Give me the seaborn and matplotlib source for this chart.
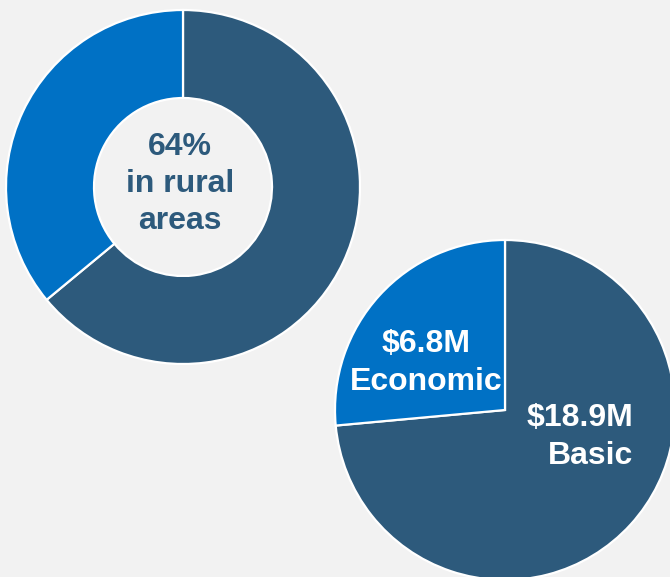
import seaborn as sns
import matplotlib.pyplot as plt

# donut: share of people in rural areas
rural_labels = ['Rural', 'Other']
rural_share = [64, 36]

# pie: funding split, $M
fund_labels = ['Basic', 'Economic']
fund_values = [18.9, 6.8]

dark = '#2d5a7c'
blue = '#0071c5'
bg = '#f2f2f2'

sns.set_theme(style='white')
plt.rcParams['font.family'] = ['Liberation Sans', 'DejaVu Sans']

fig = plt.figure(figsize=(6.7, 5.77), dpi=100, facecolor=bg)
ax = fig.add_axes([0, 0, 1, 1])
ax.set_facecolor(bg)

wp = dict(edgecolor='white', linewidth=1.6)

ax.pie(rural_share, colors=[dark, blue], startangle=90, counterclock=False,
       center=(183, 390), radius=177, wedgeprops=dict(width=88, **wp), frame=True)
ax.pie(fund_values, colors=[dark, blue], startangle=90, counterclock=False,
       center=(505, 167), radius=170, wedgeprops=wp, frame=True)
ax.set_xlim(0, 670)
ax.set_ylim(0, 577)
ax.set_aspect('equal')
ax.axis('off')

txt = dict(fontsize=23, fontweight='bold', linespacing=1.32, va='center')
ax.text(180, 393, f'{rural_share[0]}%\nin rural\nareas', ha='center', color=dark, **txt)
ax.text(426, 214, f'${fund_values[1]}M\n{fund_labels[1]}', ha='center', color='white', **txt)
ax.text(633, 140, f'${fund_values[0]}M\n{fund_labels[0]}', ha='right', color='white', **txt)

fig.savefig('out.png', dpi=100, facecolor=bg)
